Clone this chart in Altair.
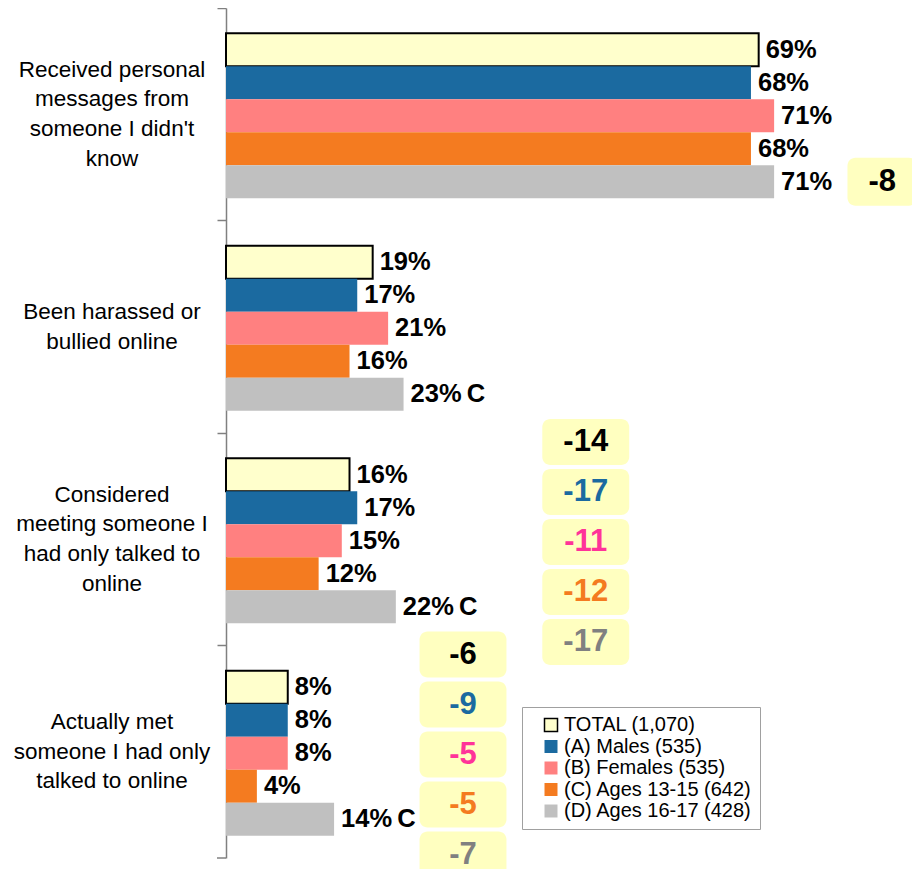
import altair as alt
import pandas as pd

# ---------------- data ----------------
categories = [
    "Received personal messages from someone I didn't know",
    "Been harassed or bullied online",
    "Considered meeting someone I had only talked to online",
    "Actually met someone I had only talked to online",
]
category_lines = [
    ["Received personal", "messages from", "someone I didn't", "know"],
    ["Been harassed or", "bullied online"],
    ["Considered", "meeting someone I", "had only talked to", "online"],
    ["Actually met", "someone I had only", "talked to online"],
]
series = [
    "TOTAL (1,070)",
    "(A) Males (535)",
    "(B) Females (535)",
    "(C) Ages 13-15 (642)",
    "(D) Ages 16-17 (428)",
]
total = [69, 19, 16, 8]
males = [68, 17, 17, 8]
females = [71, 21, 15, 8]
ages_13_15 = [68, 16, 12, 4]
ages_16_17 = [71, 23, 22, 14]
sig_16_17 = ["", "C", "C", "C"]

change_cat1 = [-8]
change_cat3 = [-14, -17, -11, -12, -17]
change_cat4 = [-6, -9, -5, -5, -7]

# ---------------- styles ----------------
FONT = "Liberation Sans"
series_fill = ["#FFFFCC", "#1B6AA0", "#FF8080", "#F47B20", "#C0C0C0"]
series_stroke = ["#000000", "transparent", "transparent", "transparent", "transparent"]
change_colors = ["#000000", "#1B6AA0", "#FF3399", "#F47B20", "#808080"]
BOX_FILL = "#FFFFC0"
LINE_H = 29.7

# box centres (in % units of the x scale) and half widths
box_c1, box_c1_half = 85.0, 4.5
box_c3, box_c4, box_half = 46.6, 30.7, 5.63

# ---------------- tables ----------------
all_vals = [total, males, females, ages_13_15, ages_16_17]
rows = []
for si, s in enumerate(series):
    for ci, c in enumerate(categories):
        v = all_vals[si][ci]
        lab = f"{v}%"
        if si == 4 and sig_16_17[ci]:
            lab += "\u2009" + sig_16_17[ci]
        rows.append({"cat": c, "series": s, "value": v, "label": lab})
bars_df = pd.DataFrame(rows)

boxB_rows = []
for ci, centre, vals in [(2, box_c3, change_cat3), (3, box_c4, change_cat4)]:
    for si, v in enumerate(vals):
        boxB_rows.append({"cat": categories[ci], "series": series[si], "txt": str(v),
                          "tcolor": change_colors[si], "xc": centre,
                          "x1": centre - box_half, "x2": centre + box_half})
boxB_df = pd.DataFrame(boxB_rows)

boxC_df = pd.DataFrame([{"cat": categories[0], "series": series[4], "txt": str(change_cat1[0]),
                         "tcolor": change_colors[0], "xc": box_c1,
                         "x1": box_c1 - box_c1_half, "x2": box_c1 + box_c1_half}])

last_df = pd.DataFrame({"cat": [categories[-1]]})

# ---------------- encodings ----------------
WIDTH = 686
x_scale = alt.Scale(domain=[0, WIDTH / 7.72], nice=False, zero=True)
y_scale = alt.Scale(domain=categories, paddingInner=0, paddingOuter=0)
y_axis = alt.Axis(labels=False, title=None, domainColor="#808080", tickColor="#808080",
                  tickSize=9, bandPosition=0, domainWidth=1.5, tickWidth=1.5, grid=False)
y_enc = alt.Y("cat:N", scale=y_scale, axis=y_axis)

yoff_bars = alt.YOffset("series:N", scale=alt.Scale(domain=series, paddingInner=0,
                                                    paddingOuter=0.72, align=0.53))
yoff_boxes = alt.YOffset("series:N", scale=alt.Scale(domain=series, range=[-16, 234],
                                                     paddingInner=0, paddingOuter=0))

bars = alt.Chart(bars_df).mark_bar(strokeWidth=2).encode(
    x=alt.X("value:Q", scale=x_scale, axis=None),
    y=y_enc,
    yOffset=yoff_bars,
    fill=alt.Fill("series:N", scale=alt.Scale(domain=series, range=series_fill),
                  legend=alt.Legend(title=None)),
    stroke=alt.Stroke("series:N", scale=alt.Scale(domain=series, range=series_stroke),
                      legend=alt.Legend(title=None)),
)

labels = alt.Chart(bars_df).mark_text(align="left", baseline="middle", dx=7, fontSize=25.5,
                                      fontWeight="bold", font=FONT, color="black").encode(
    x=alt.X("value:Q", scale=x_scale, axis=None),
    y=y_enc,
    yOffset=yoff_bars,
    text="label:N",
)

boxC = alt.Chart(boxC_df).mark_bar(height=48, cornerRadius=8, fill=BOX_FILL).encode(
    x=alt.X("x1:Q", scale=x_scale, axis=None), x2="x2:Q", y=y_enc, yOffset=yoff_bars)
boxC_txt = alt.Chart(boxC_df).mark_text(fontSize=31, fontWeight="bold", font=FONT,
                                        align="center", baseline="middle").encode(
    x=alt.X("xc:Q", scale=x_scale, axis=None), y=y_enc, yOffset=yoff_bars,
    text="txt:N", color=alt.Color("tcolor:N", scale=None))

boxB = alt.Chart(boxB_df).mark_bar(height=46, cornerRadius=8, fill=BOX_FILL).encode(
    x=alt.X("x1:Q", scale=x_scale, axis=None), x2="x2:Q", y=y_enc, yOffset=yoff_boxes)
boxB_txt = alt.Chart(boxB_df).mark_text(fontSize=31, fontWeight="bold", font=FONT,
                                        align="center", baseline="middle").encode(
    x=alt.X("xc:Q", scale=x_scale, axis=None), y=y_enc, yOffset=yoff_boxes,
    text="txt:N", color=alt.Color("tcolor:N", scale=None))

# category labels: one layer per category so the multi-line block is centred on the band
cat_layers = []
for c, lines in zip(categories, category_lines):
    df = pd.DataFrame({"cat": [c], "txt": ["\n".join(lines)]})
    cat_layers.append(
        alt.Chart(df).mark_text(lineBreak="\n", lineHeight=LINE_H, fontSize=22.5, font=FONT,
                                align="center", baseline="middle", color="black",
                                dy=-(len(lines) - 1) / 2 * LINE_H).encode(
            x=alt.value(-114), y=y_enc, text="txt:N")
    )

bottom_tick = alt.Chart(last_df).mark_rule(color="#808080", strokeWidth=1.5).encode(
    y=alt.Y("cat:N", scale=y_scale, axis=y_axis, bandPosition=1),
    x=alt.value(-9), x2=alt.value(0))

main_grp = alt.layer(bars, labels, boxC, boxC_txt)
boxes_grp = alt.layer(boxB, boxB_txt)

chart = alt.layer(main_grp, boxes_grp, *cat_layers, bottom_tick).resolve_scale(
    yOffset="independent"
).properties(
    width=WIDTH, height=850,
    padding={"left": 218, "top": 0, "right": 0, "bottom": 11},
    autosize=alt.AutoSizeParams(type="none"),
).configure_view(stroke=None).configure_legend(
    orient="none", legendX=296, legendY=699, fillColor="white", strokeColor="#A0A0A0",
    padding=8, symbolOffset=11, labelFont=FONT, labelFontSize=20, labelColor="black",
    symbolType="square", symbolSize=169, symbolStrokeWidth=1.5, rowPadding=1.5, labelOffset=3,
    labelLimit=400,
)

chart.save("out.html", embed_options={"renderer": "svg", "actions": False})
